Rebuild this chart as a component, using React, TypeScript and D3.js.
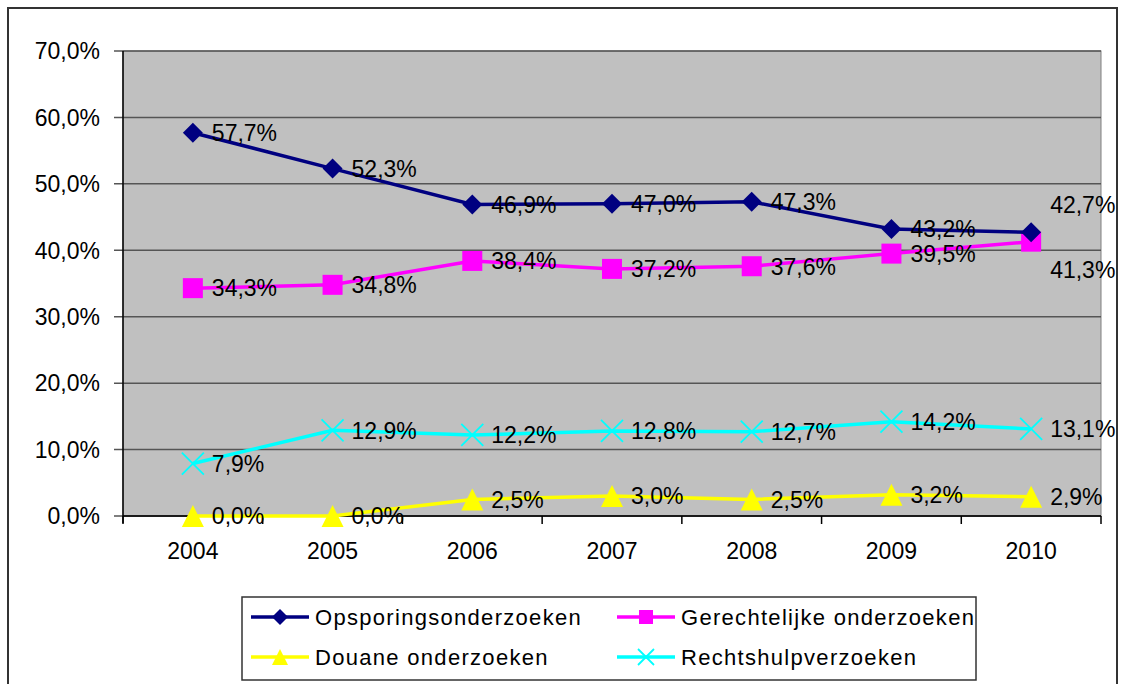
import React, { useEffect, useRef } from 'react';
import * as d3 from 'd3';

const years = ['2004', '2005', '2006', '2007', '2008', '2009', '2010'];
const opsporing = [57.7, 52.3, 46.9, 47.0, 47.3, 43.2, 42.7];
const gerechtelijk = [34.3, 34.8, 38.4, 37.2, 37.6, 39.5, 41.3];
const douane = [0.0, 0.0, 2.5, 3.0, 2.5, 3.2, 2.9];
const rechtshulp = [7.9, 12.9, 12.2, 12.8, 12.7, 14.2, 13.1];
const yTicks = [0, 10, 20, 30, 40, 50, 60, 70];

const series = [
  { name: 'Opsporingsonderzoeken', values: opsporing, color: '#000080', symbol: 'diamond' },
  { name: 'Gerechtelijke onderzoeken', values: gerechtelijk, color: '#FF00FF', symbol: 'square' },
  { name: 'Douane onderzoeken', values: douane, color: '#FFFF00', symbol: 'triangle' },
  { name: 'Rechtshulpverzoeken', values: rechtshulp, color: '#00FFFF', symbol: 'cross' },
];

const nl = d3.formatLocale({ decimal: ',', thousands: '.', grouping: [3], currency: ['€', ''] });
const pct = (v: number) => nl.format('.1f')(v) + '%';

function drawMarker(g: any, symbol: string, color: string, x: number, y: number, s: number) {
  if (symbol === 'diamond') {
    g.append('path')
      .attr('d', `M${x},${y - s}L${x + s},${y}L${x},${y + s}L${x - s},${y}Z`)
      .attr('fill', color);
  } else if (symbol === 'square') {
    g.append('rect').attr('x', x - s).attr('y', y - s).attr('width', 2 * s).attr('height', 2 * s).attr('fill', color);
  } else if (symbol === 'triangle') {
    g.append('path')
      .attr('d', `M${x},${y - s}L${x + s},${y + s}L${x - s},${y + s}Z`)
      .attr('fill', color);
  } else {
    g.append('path')
      .attr('d', `M${x - s},${y - s}L${x + s},${y + s}M${x - s},${y + s}L${x + s},${y - s}`)
      .attr('stroke', color).attr('stroke-width', 1.8).attr('fill', 'none');
  }
}

export default function App() {
  const ref = useRef<SVGSVGElement>(null);

  useEffect(() => {
    const svg = d3.select(ref.current);
    svg.selectAll('*').remove();
    const font = 'Liberation Sans, Arial, sans-serif';
    const fs = 23;

    const left = 123, right = 1101, top = 51, bottom = 516;

    // outer frame
    svg.append('rect').attr('x', 8).attr('y', 8).attr('width', 1109).attr('height', 700)
      .attr('fill', '#fff').attr('stroke', '#333').attr('stroke-width', 2);

    const x = d3.scaleBand().domain(years).range([left, right]);
    const y = d3.scaleLinear().domain([0, 70]).range([bottom, top]);

    svg.append('rect').attr('x', left).attr('y', top).attr('width', right - left).attr('height', bottom - top)
      .attr('fill', '#C0C0C0').attr('stroke', '#808080').attr('stroke-width', 1);

    // gridlines
    svg.append('g').selectAll('line').data(yTicks).join('line')
      .attr('x1', left - 9).attr('x2', right)
      .attr('y1', (d) => y(d)).attr('y2', (d) => y(d))
      .attr('stroke', '#555').attr('stroke-width', 1.5);

    svg.append('g').selectAll('text').data(yTicks).join('text')
      .attr('x', 100).attr('y', (d) => y(d)).attr('dy', '0.36em')
      .attr('text-anchor', 'end').attr('font-family', font).attr('font-size', fs)
      .text((d) => pct(d));

    // axes lines
    svg.append('line').attr('x1', left).attr('x2', left).attr('y1', top).attr('y2', bottom + 7)
      .attr('stroke', '#000').attr('stroke-width', 1.5);
    svg.append('line').attr('x1', left).attr('x2', right).attr('y1', bottom).attr('y2', bottom)
      .attr('stroke', '#000').attr('stroke-width', 1.5);
    const bounds = years.map((yr) => x(yr)!).concat([right]);
    svg.append('g').selectAll('line').data(bounds).join('line')
      .attr('x1', (d) => d).attr('x2', (d) => d).attr('y1', bottom).attr('y2', bottom + 8)
      .attr('stroke', '#000').attr('stroke-width', 1.5);

    svg.append('g').selectAll('text').data(years).join('text')
      .attr('x', (d) => x(d)! + x.bandwidth() / 2).attr('y', 559)
      .attr('text-anchor', 'middle').attr('font-family', font).attr('font-size', fs)
      .text((d) => d);

    const cx = (i: number) => x(years[i])! + x.bandwidth() / 2;
    const line = d3.line<number>().x((_, i) => cx(i)).y((d) => y(d));

    // lines and markers (draw in reverse so navy is on top)
    [...series].reverse().forEach((s) => {
      svg.append('path').datum(s.values).attr('d', line)
        .attr('fill', 'none').attr('stroke', s.color).attr('stroke-width', 3.5);
      const g = svg.append('g');
      s.values.forEach((v, i) => {
        const sz = s.symbol === 'cross' ? 11 : s.symbol === 'triangle' ? 11 : 10;
        drawMarker(g, s.symbol, s.color, cx(i), y(v), sz);
      });
    });

    // data labels
    series.forEach((s, si) => {
      svg.append('g').selectAll('text').data(s.values).join('text')
        .attr('x', (_, i) => cx(i) + 19)
        .attr('y', (d, i) => {
          let yy = y(d);
          if (i === 6 && si === 0) yy -= 28;
          if (i === 6 && si === 1) yy += 28;
          return yy;
        })
        .attr('dy', '0.36em')
        .attr('font-family', font).attr('font-size', fs).attr('fill', '#000')
        .text((d) => pct(d));
    });

    // legend
    svg.append('rect').attr('x', 242).attr('y', 597).attr('width', 734).attr('height', 83)
      .attr('fill', '#fff').attr('stroke', '#333').attr('stroke-width', 1.5);
    const legPos = [
      { lx: 251, ly: 617 },
      { lx: 617, ly: 617 },
      { lx: 251, ly: 657 },
      { lx: 617, ly: 657 },
    ];
    series.forEach((s, i) => {
      const { lx, ly } = legPos[i];
      const g = svg.append('g');
      g.append('line').attr('x1', lx).attr('x2', lx + 58).attr('y1', ly).attr('y2', ly)
        .attr('stroke', s.color).attr('stroke-width', 3.5);
      drawMarker(g, s.symbol, s.color, lx + 29, ly, s.symbol === 'square' ? 7 : 8);
      g.append('text').attr('x', lx + 64).attr('y', ly).attr('dy', '0.36em')
        .attr('font-family', font).attr('font-size', 22).attr('letter-spacing', 1.3).text(s.name);
    });
  }, []);

  return (
    <svg ref={ref} width={1121} height={684}
      style={{ position: 'absolute', left: 0, top: 0, background: '#fff' }} />
  );
}
